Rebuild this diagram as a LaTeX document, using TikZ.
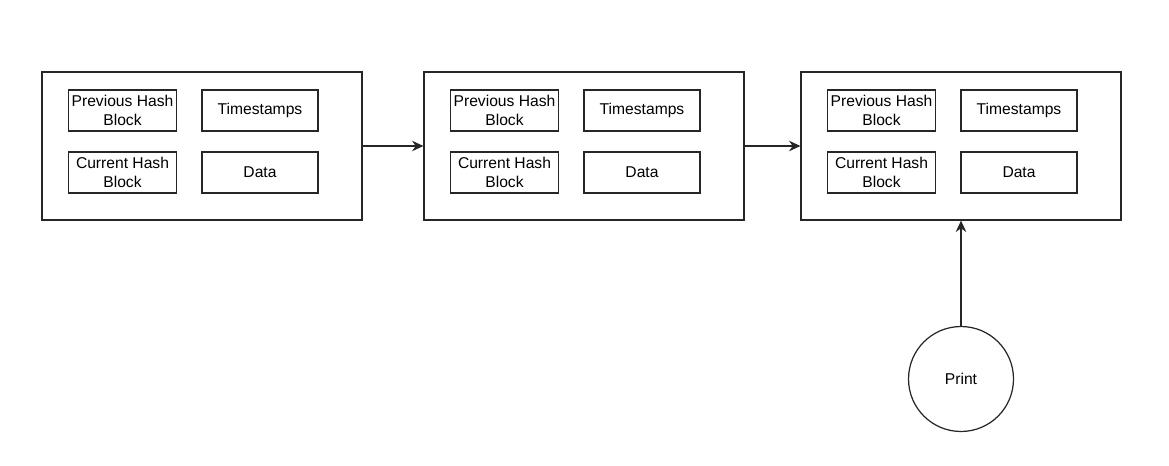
\documentclass[tikz,border=0pt]{standalone}
\usepackage{fontspec}
\setmainfont{Liberation Sans}
\usetikzlibrary{arrows.meta, positioning, shapes}

\begin{document}
\begin{tikzpicture}[x=0.02cm, y=-0.02cm, line width=0.7pt, > = {Stealth[length=6.5pt, width=6pt]},
    chainblock/.style = {draw=black!85, minimum width=6.4cm, minimum height=2.96cm, inner sep=0pt},
    field/.style = {draw=black!85, minimum height=0.82cm, inner sep=0pt, align=center,
      font=\fontsize{8.9}{10.6}\selectfont},
    hashfield/.style = {field, minimum width=2.16cm},
    infofield/.style = {field, minimum width=2.32cm},
    printer/.style = {draw=black!85, circle, minimum size=2.1cm, inner sep=0pt,
      font=\fontsize{8.9}{10.6}\selectfont}]
    \useasboundingbox (0,0) rectangle (1169,466);
    \def\dy{146}
    % three chained blocks
    \node[chainblock] (blockA) at (202, \dy) {};
    \node[chainblock] (blockB) at (584, \dy) {};
    \node[chainblock] (blockC) at (961, \dy) {};
    % fields of block A
    \node[hashfield] (prevA) at (122.5, 110.5) {Previous Hash\\Block};
    \node[infofield] (timeA) at (260, 110.5) {Timestamps};
    \node[hashfield] (currA) at (122.5, 172.5) {Current Hash\\Block};
    \node[infofield] (dataA) at (260, 172.5) {Data};
    % fields of block B
    \node[hashfield] (prevB) at (504.5, 110.5) {Previous Hash\\Block};
    \node[infofield] (timeB) at (642, 110.5) {Timestamps};
    \node[hashfield] (currB) at (504.5, 172.5) {Current Hash\\Block};
    \node[infofield] (dataB) at (642, 172.5) {Data};
    % fields of block C
    \node[hashfield] (prevC) at (881.5, 110.5) {Previous Hash\\Block};
    \node[infofield] (timeC) at (1019, 110.5) {Timestamps};
    \node[hashfield] (currC) at (881.5, 172.5) {Current Hash\\Block};
    \node[infofield] (dataC) at (1019, 172.5) {Data};
    % print node
    \node[printer] (print) at (961, 379) {Print};
    \draw[->, draw=black!85] (blockA) -- (blockB);
    \draw[->, draw=black!85] (blockB) -- (blockC);
    \draw[->, draw=black!85] (print) -- (blockC);
\end{tikzpicture}
\end{document}
